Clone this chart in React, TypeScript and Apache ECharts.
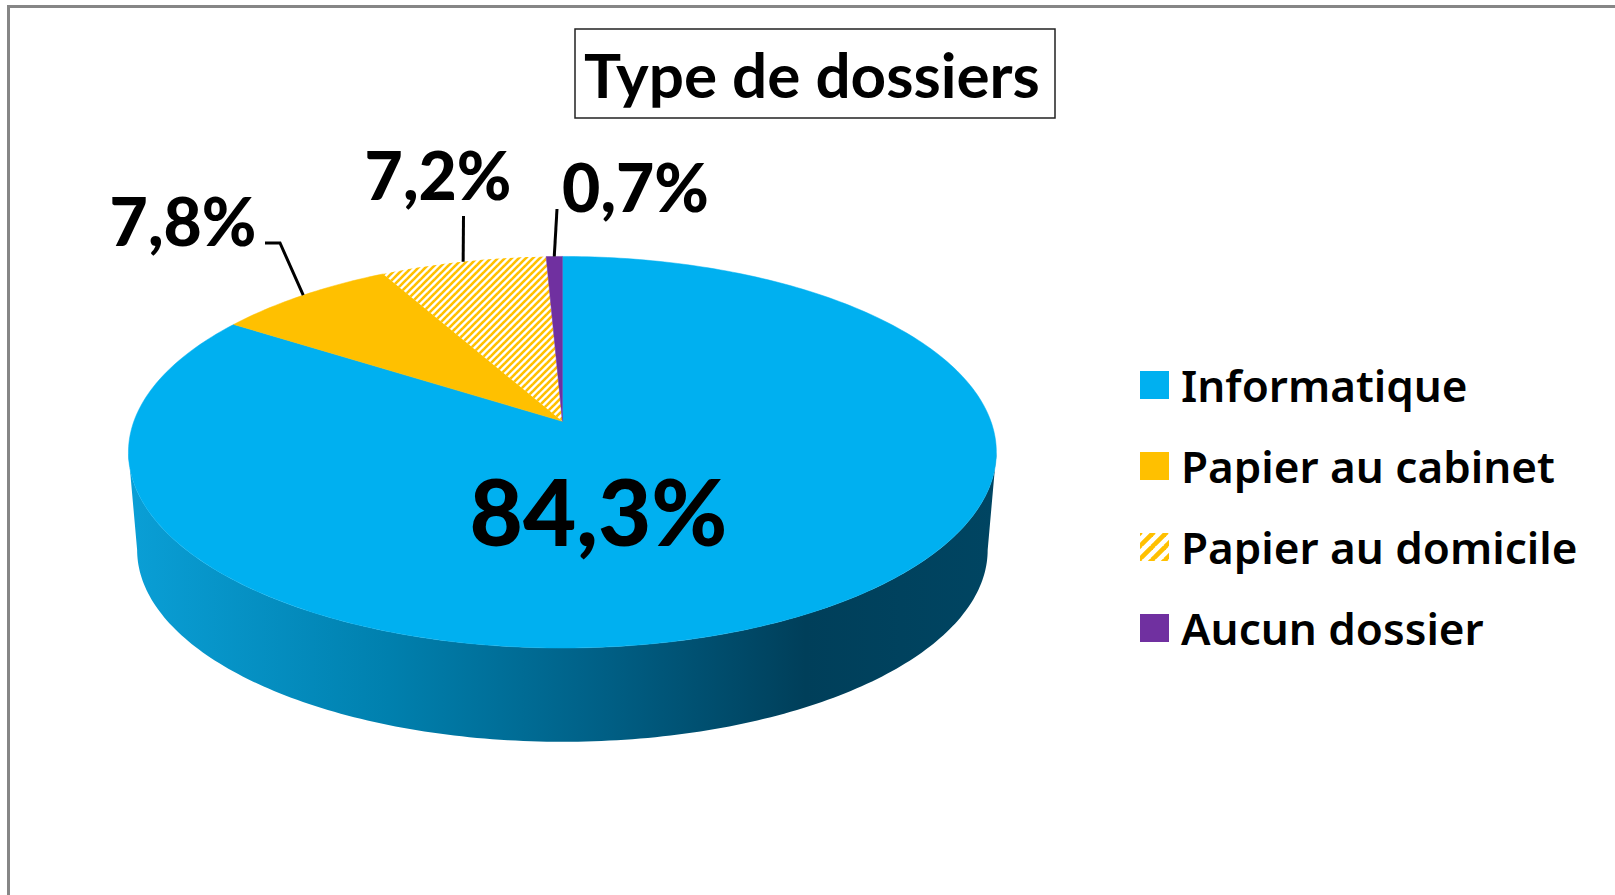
import React, { useEffect, useRef } from "react";
import * as echarts from "echarts";

const titleText = "Type de dossiers";
const categories = ["Informatique", "Papier au cabinet", "Papier au domicile", "Aucun dossier"];
const shares = [84.3, 7.8, 7.2, 0.7];
const sliceColors = ["#00B0F0", "#FFC000", "#FFC000", "#7030A0"];

// Projection of the tilted disc
const APEX = { x: 562.4, y: 421.3 };
const A = 428.5;
const B = 190.9;
const K = 0.158;
const DEPTH = 98.3;
const BOTTOM_SCALE = 0.98;

// Label layout: centre of the text, and where the leader line ends
const labelLayout = [
  { x: 598.5, y: 510, size: 92, leader: null },
  { x: 183, y: 220, size: 66, leader: [[280, 243], [265, 243]] },
  { x: 438, y: 174, size: 66, leader: [[463.5, 216]] },
  { x: 635.5, y: 186, size: 66, leader: [[557, 209]] },
];

const FONT = "Lato";
const LEGEND_FONT = "Noto Sans";

function project(deg: number, scale = 1, dy = 0): number[] {
  const t = (deg * Math.PI) / 180;
  const d = 1 + K * Math.cos(t);
  return [APEX.x + (scale * A * Math.sin(t)) / d, APEX.y + dy - (scale * B * Math.cos(t)) / d];
}

function hatch(period: number, width: number) {
  const c = document.createElement("canvas");
  c.width = period;
  c.height = period;
  const g = c.getContext("2d") as CanvasRenderingContext2D;
  g.fillStyle = "#ffffff";
  g.fillRect(0, 0, period, period);
  g.strokeStyle = "#FFC000";
  g.lineWidth = width;
  for (let o = -period; o <= period; o += period) {
    g.beginPath();
    g.moveTo(o - 1, period + 1);
    g.lineTo(o + period + 1, -1);
    g.stroke();
  }
  return { image: c, repeat: "repeat" };
}

function startAngle(i: number): number {
  // Slices run clockwise from twelve o'clock
  let sum = 0;
  for (let j = 0; j < i; j++) sum += shares[j];
  return (sum / 100) * 360;
}

export default function App() {
  const ref = useRef<HTMLDivElement>(null);
  useEffect(() => {
    document.body.style.margin = "0";
    document.body.style.overflow = "hidden";
    const chart = echarts.init(ref.current as HTMLDivElement, null, { renderer: "svg" });
    const fineHatch = hatch(7, 2.6);
    const coarseHatch = hatch(13, 4.6);

    const sliceSeries = categories.map((name, i) => ({
      type: "custom",
      name,
      coordinateSystem: "none",
      silent: true,
      itemStyle: { color: i === 2 ? fineHatch : sliceColors[i] },
      data: [shares[i]],
      renderItem: () => {
        const from = startAngle(i);
        const to = from + (shares[i] / 100) * 360;
        const pts: number[][] = [[APEX.x, APEX.y]];
        const n = Math.max(2, Math.ceil(to - from));
        for (let s = 0; s <= n; s++) pts.push(project(from + ((to - from) * s) / n));
        const l = labelLayout[i];
        const children: any[] = [
          {
            type: "polygon",
            shape: { points: pts },
            style: i === 2 ? { fill: fineHatch as any } : { fill: sliceColors[i], stroke: sliceColors[i], lineWidth: 0.5 },
          },
        ];
        if (l.leader) {
          children.push({
            type: "polyline",
            shape: { points: [project((from + to) / 2), ...l.leader] },
            style: { fill: "none", stroke: "#000000", lineWidth: 3 },
          });
        }
        children.push({
          type: "text",
          style: {
            text: shares[i].toFixed(1).replace(".", ",") + "%",
            x: l.x,
            y: l.y,
            align: "center",
            verticalAlign: "middle",
            fontFamily: FONT,
            fontWeight: 900,
            fontSize: l.size,
            fill: "#000000",
          },
        });
        return { type: "group", children };
      },
    }));

    const sideSeries = {
      type: "custom",
      name: "side",
      coordinateSystem: "none",
      silent: true,
      data: [100],
      renderItem: () => {
        const t0 = (Math.acos(-K) * 180) / Math.PI;
        const t1 = 360 - t0;
        const top: number[][] = [];
        const bottom: number[][] = [];
        for (let d = t0; d <= t1 + 1e-6; d += (t1 - t0) / 180) {
          top.push(project(d));
          bottom.unshift(project(d, BOTTOM_SCALE, DEPTH));
        }
        return {
          type: "polygon",
          shape: { points: [...top, ...bottom] },
          style: {
            fill: new echarts.graphic.LinearGradient(0, 0, 1, 0, [
              { offset: 0, color: "#0A9FD6" },
              { offset: 0.3, color: "#0080AE" },
              { offset: 0.55, color: "#005F85" },
              { offset: 0.78, color: "#003F5A" },
              { offset: 1, color: "#004562" },
            ]),
          },
        };
      },
    };

    chart.setOption({
      animation: false,
      backgroundColor: "#ffffff",
      title: {
        text: titleText,
        left: 575,
        top: 29,
        padding: [14, 15, 13, 9],
        borderColor: "#222222",
        borderWidth: 1.5,
        textStyle: { fontFamily: FONT, fontWeight: "bold", fontSize: 62, color: "#000000" },
      },
      legend: {
        orient: "vertical",
        left: 1135,
        top: 355,
        icon: "rect",
        itemWidth: 29,
        itemHeight: 28,
        itemGap: 31,
        textStyle: { fontFamily: LEGEND_FONT, fontWeight: 600, fontSize: 44, color: "#000000", padding: [0, 0, 0, 7], height: 50, lineHeight: 50 },
        data: categories.map((name, i) => (i === 2 ? { name, itemStyle: { color: coarseHatch } } : { name })),
      },
      graphic: [
        {
          type: "polyline",
          shape: { points: [[8.5, 895], [8.5, 6.5], [1615, 6.5]] },
          style: { fill: "none", stroke: "#868686", lineWidth: 3 },
          silent: true,
        },
      ],
      series: [sideSeries, ...sliceSeries],
    });
    return () => chart.dispose();
  }, []);
  return <div ref={ref} style={{ position: "absolute", left: 0, top: 0, width: 1615, height: 895 }} />;
}
